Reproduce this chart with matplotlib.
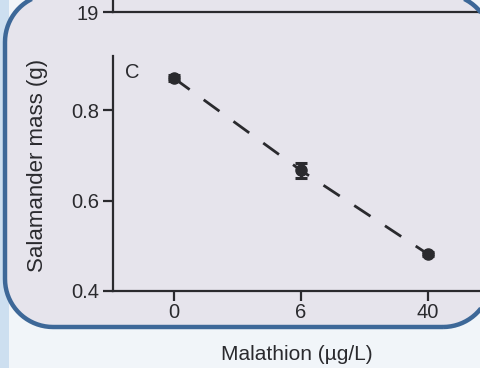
import numpy as np
import matplotlib.pyplot as plt
from matplotlib.patches import Polygon, Rectangle

# data
doses = ["0", "6", "40"]
mass = [0.871, 0.667, 0.482]
mass_err = [0.006, 0.017, 0.005]
yticks = [0.4, 0.6, 0.8]

plt.rcParams['font.family'] = ['Liberation Sans', 'DejaVu Sans']
plt.rcParams['lines.scale_dashes'] = False

ink = '#2a2a2e'
W, H = 481, 368

fig = plt.figure(figsize=(4.81, 3.68), dpi=100)
fig.patch.set_facecolor('#f1f5f9')


def pixel_axes(z):
    # full-figure axes measured in pixels, for the background decoration
    a = fig.add_axes([0, 0, 1, 1], zorder=z)
    a.set_xlim(0, W)
    a.set_ylim(0, H)
    a.set_axis_off()
    a.patch.set_visible(False)
    return a


def rounded_box(x0, y0, w, h, r):
    t = np.linspace(0, np.pi / 2, 20)
    pts = []
    for cx, cy, a0 in [(x0 + w - r, y0 + r, -np.pi / 2), (x0 + w - r, y0 + h - r, 0),
                       (x0 + r, y0 + h - r, np.pi / 2), (x0 + r, y0 + r, np.pi)]:
        pts += list(zip(cx + r * np.cos(a0 + t), cy + r * np.sin(a0 + t)))
    return np.array(pts)


panel = rounded_box(5, 41, 486, 333, 48)

bg = pixel_axes(-5)
bg.add_patch(Rectangle((0, 0), 9, H, facecolor='#cddff0', edgecolor='none'))
bg.add_patch(Polygon(panel, closed=True, facecolor='#e6e4ec', edgecolor='none',
                     clip_on=False))

# top panel (only its bottom edge is visible)
axt = fig.add_axes([113 / W, (H - 12) / H, 1 - 113 / W, 0.1])
axt.set_facecolor('none')
axt.set_ylim(19, 30)
axt.set_yticks([19])
axt.set_xticks([])
for s in ['top', 'right']:
    axt.spines[s].set_visible(False)
for s in ['left', 'bottom']:
    axt.spines[s].set_linewidth(1.6)
    axt.spines[s].set_color(ink)
axt.tick_params(axis='y', length=7, width=1.6, labelsize=14.5, colors=ink, pad=3)

# panel C
ax = fig.add_axes([113 / W, (H - 291) / H, 1 - 113 / W, 235 / H])
ax.set_facecolor('none')
x = np.arange(len(doses))
ax.errorbar(x, mass, yerr=mass_err, fmt='o', color=ink, markersize=8,
            capsize=4.5, capthick=2.2, elinewidth=2.2, zorder=3)
ax.plot(x, mass, color=ink, linewidth=2, linestyle=(0, (14, 12.5)), zorder=2)

ax.set_xlim(-0.48, 2.42)
ax.set_ylim(0.4, 0.92)
ax.set_xticks(x)
ax.set_xticklabels(doses)
ax.set_yticks(yticks)
ax.set_yticklabels([f"{v:.1f}" for v in yticks])
for s in ['top', 'right']:
    ax.spines[s].set_visible(False)
for s in ['left', 'bottom']:
    ax.spines[s].set_linewidth(1.6)
    ax.spines[s].set_color(ink)
ax.tick_params(axis='both', length=7, width=1.6, labelsize=14.5, colors=ink)
ax.tick_params(axis='y', pad=3)
ax.tick_params(axis='x', pad=2)

ax.set_ylabel("Salamander mass (g)", fontsize=16, color=ink)
ax.yaxis.label.set_va('center')
ax.yaxis.set_label_coords((37 - 113) / 368, (291 - 165.5) / 235)
ax.set_xlabel("Malathion (µg/L)", fontsize=15, color=ink)
ax.xaxis.label.set_va('center')
ax.xaxis.set_label_coords(0.5, (291 - 354) / 235)

ax.text((132 - 113) / 368, (291 - 73) / 235, "C", transform=ax.transAxes,
        ha='center', va='center', fontsize=14.5, color=ink)

# blue border of the rounded panel, drawn over the axis lines
fg = pixel_axes(10)
fg.add_patch(Polygon(panel, closed=True, facecolor='none', edgecolor='#3d6898',
                     linewidth=3.2, clip_on=False))

fig.savefig("out.png", dpi=100, facecolor=fig.get_facecolor())
